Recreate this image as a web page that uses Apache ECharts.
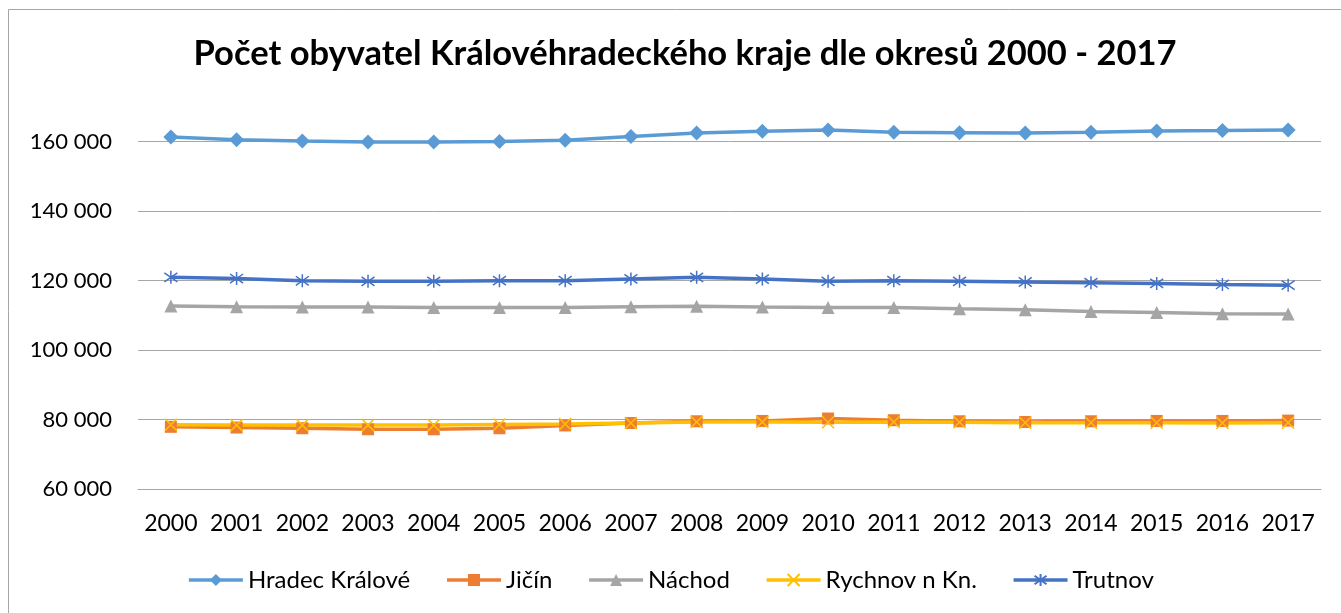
<!DOCTYPE HTML>
<HTML>
<head>
    <meta charset="utf-8">
    <title>Počet obyvatel</title>
    <script src="https://cdn.jsdelivr.net/npm/echarts@6/dist/echarts.min.js"></script>
    <style>
        html, body { margin: 0; padding: 0; background: #fff; }
    </style>
</head>
<body>
    <div id="result" style="width:1341px;height:613px;"></div>
    <script>
        // roky a okresy
        var years = ['2000', '2001', '2002', '2003', '2004', '2005', '2006', '2007', '2008',
            '2009', '2010', '2011', '2012', '2013', '2014', '2015', '2016', '2017'];
        var names = ['Hradec Králové', 'Jičín', 'Náchod', 'Rychnov n Kn.', 'Trutnov'];

        var hradec = [161350, 160600, 160200, 159900, 159900, 160100, 160400, 161500, 162500,
            163000, 163400, 162700, 162600, 162500, 162700, 163100, 163200, 163400];
        var jicin = [77900, 77700, 77500, 77200, 77200, 77500, 78300, 79000, 79500,
            79600, 80300, 79800, 79500, 79300, 79500, 79600, 79600, 79700];
        var nachod = [112700, 112500, 112400, 112400, 112300, 112300, 112300, 112500, 112600,
            112400, 112300, 112300, 111900, 111600, 111100, 110800, 110500, 110400];
        var rychnov = [78500, 78400, 78400, 78400, 78400, 78600, 78700, 79000, 79300,
            79300, 79200, 79300, 79200, 79100, 79100, 79100, 79000, 79100];
        var trutnov = [120950, 120600, 119950, 119800, 119800, 120000, 120000, 120500, 120950,
            120450, 119800, 120000, 119800, 119600, 119400, 119200, 118900, 118700];

        var colors = ['#5B9BD5', '#ED7D31', '#A5A5A5', '#FFC000', '#4472C4'];
        var font = 'Lato';

        function fmt(v) {
            return String(v).replace(/\B(?=(\d{3})+(?!\d))/g, ' ');
        }

        function makeSeries(name, data, color, symbol, size, stroked) {
            return {
                name: name,
                type: 'line',
                data: data,
                symbol: symbol,
                symbolSize: size,
                showAllSymbol: true,
                lineStyle: { color: color, width: 3.5 },
                itemStyle: stroked
                    ? { color: color, borderColor: color, borderWidth: 1.5 }
                    : { color: color },
                emphasis: { disabled: true }
            };
        }

        var myChart = echarts.init(document.getElementById('result'));
        var option = {
            animation: false,
            textStyle: { fontFamily: font },
            title: {
                text: 'Počet obyvatel Královéhradeckého kraje dle okresů 2000 - 2017',
                left: 680,
                top: 31,
                textAlign: 'center',
                textStyle: { fontFamily: font, fontWeight: 'bold', fontSize: 34.5, color: '#000' }
            },
            graphic: [{
                type: 'rect',
                shape: { x: 8.5, y: 9.5, width: 1400, height: 700 },
                style: { fill: 'none', stroke: '#a6a6a6', lineWidth: 1 },
                silent: true
            }],
            legend: {
                data: names,
                bottom: 16,
                left: 'center',
                itemWidth: 54,
                itemHeight: 15,
                itemGap: 35,
                lineStyle: { width: 3.5 },
                textStyle: { fontFamily: font, fontSize: 24, color: '#000' }
            },
            grid: { left: 138, right: 20, top: 107, bottom: 124 },
            xAxis: {
                type: 'category',
                data: years,
                boundaryGap: true,
                axisLine: { lineStyle: { color: '#a6a6a6' } },
                axisTick: { show: false },
                axisLabel: { color: '#000', fontSize: 23, margin: 23, interval: 0 }
            },
            yAxis: {
                type: 'value',
                min: 60000,
                max: 170000,
                interval: 20000,
                axisLine: { show: false },
                axisTick: { show: false },
                axisLabel: {
                    color: '#000', fontSize: 22, margin: 26, showMaxLabel: false,
                    formatter: fmt
                },
                splitLine: { showMaxLine: false, lineStyle: { color: '#a6a6a6' } }
            },
            series: [
                makeSeries(names[0], hradec, colors[0], 'diamond', 15, false),
                makeSeries(names[1], jicin, colors[1], 'rect', 12, false),
                makeSeries(names[2], nachod, colors[2], 'triangle', 13, false),
                makeSeries(names[3], rychnov, colors[3], 'path://M0,0L10,10M10,0L0,10', 12, true),
                makeSeries(names[4], trutnov, colors[4], 'path://M5,0L5,10M0,1.5L10,8.5M10,1.5L0,8.5', 13, true)
            ]
        };
        myChart.setOption(option);
    </script>
</body>
</HTML>
